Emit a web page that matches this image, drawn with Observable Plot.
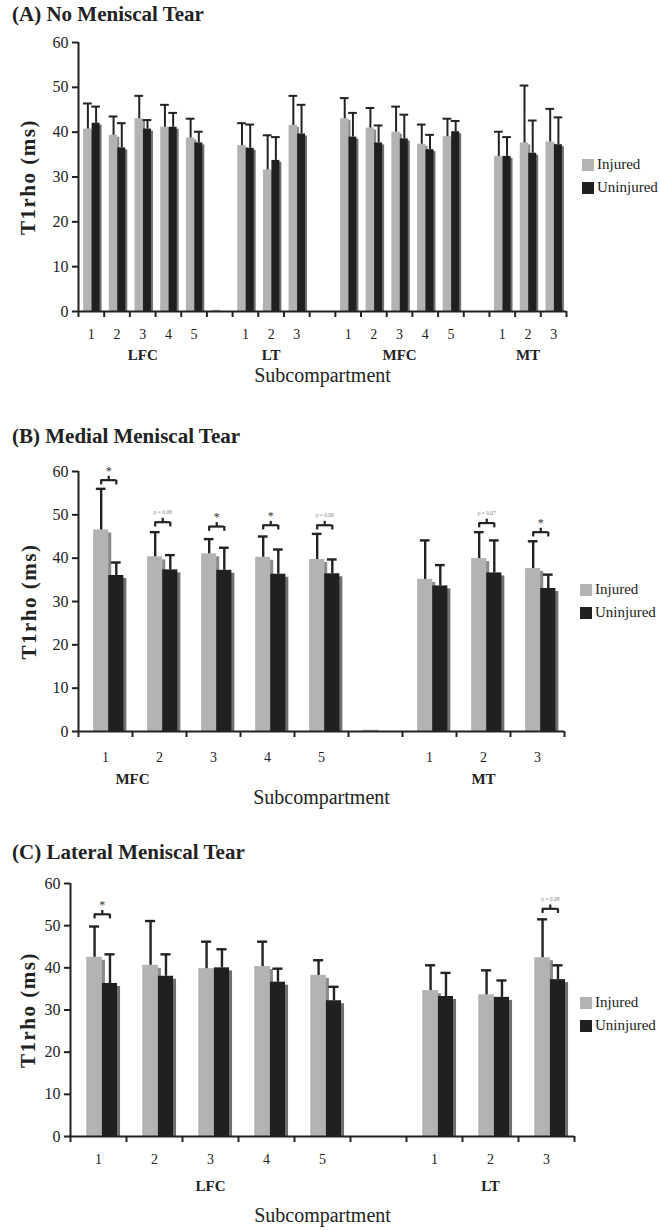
<!DOCTYPE html>
<html><head><meta charset="utf-8">
<script src="https://cdn.jsdelivr.net/npm/d3@7"></script>
<script src="https://cdn.jsdelivr.net/npm/@observablehq/plot@0.6"></script>
<style>
body{margin:0;background:#fff;}
#root{position:relative;width:660px;height:1231px;font-family:"Liberation Serif","Times New Roman",serif;color:#222;overflow:hidden;}
.title{position:absolute;left:12px;font-weight:bold;font-size:21px;white-space:nowrap;font-family:"Liberation Serif","Times New Roman",serif;}
.panel{position:absolute;left:0;}
.legend{position:absolute;font-size:15px;font-family:"Liberation Serif","Times New Roman",serif;}
.legend div{display:flex;align-items:center;height:23px;white-space:nowrap;}
.sw{width:12px;height:12px;margin-right:3px;}
</style></head><body><div id="root"></div>
<script>
// ---------- DATA ----------
const seriesNames = ["Injured", "Uninjured"];
const seriesColors = ["#b3b3b3", "#202020"];

// Panel A: No Meniscal Tear
const slotsA = ["1","2","3","4","5","","1","2","3","","1","2","3","4","5","","1","2","3"];
const groupsA = [["LFC",0,4],["LT",6,8],["MFC",10,14],["MT",16,18]];
const injuredA    = [40.7,39.3,43.0,41.1,38.7,0.3,37.0,31.6,41.5,null,43.0,40.9,40.0,37.3,39.0,null,34.6,37.6,37.8];
const injuredErrA = [46.4,43.5,48.1,46.1,43.0,null,42.0,39.3,48.1,null,47.6,45.4,45.7,41.7,43.0,null,40.1,50.4,45.2];
const uninjuredA    = [42.0,36.5,40.7,41.1,37.6,null,36.4,33.7,39.6,null,38.9,37.6,38.5,36.1,40.1,null,34.6,35.3,37.2];
const uninjuredErrA = [45.7,42.0,42.7,44.3,40.1,null,41.7,38.9,46.1,null,44.3,41.5,43.9,39.4,42.5,null,38.9,42.6,43.3];
const bracketsA = [];

// Panel B: Medial Meniscal Tear
const slotsB = ["1","2","3","4","5","","1","2","3"];
const groupsB = [["MFC",0,1],["MT",7,7]];
const injuredB    = [46.5,40.3,41.0,40.2,39.7,0.3,35.1,39.9,37.6];
const injuredErrB = [56.0,46.0,44.4,45.0,45.6,null,44.1,46.0,43.9];
const uninjuredB    = [36.0,37.3,37.2,36.3,36.4,null,33.6,36.6,33.0];
const uninjuredErrB = [39.0,40.7,42.4,42.0,39.7,null,38.4,44.1,36.2];
const bracketsB = [[0,58.0,"*"],[1,48.3,"p = 0.08"],[2,47.3,"*"],[3,47.6,"*"],[4,47.6,"p = 0.08"],[7,48.1,"p = 0.07"],[8,46.0,"*"]];

// Panel C: Lateral Meniscal Tear
const slotsC = ["1","2","3","4","5","","1","2","3"];
const groupsC = [["LFC",0,4],["LT",6,8]];
const injuredC    = [42.5,40.6,39.8,40.3,38.2,null,34.6,33.6,42.4];
const injuredErrC = [49.8,51.1,46.2,46.2,41.8,null,40.6,39.4,51.5];
const uninjuredC    = [36.3,38.0,40.0,36.6,32.2,null,33.2,33.0,37.2];
const uninjuredErrC = [43.2,43.2,44.4,39.8,35.5,null,38.8,37.0,40.6];
const bracketsC = [[0,52.7,"*"],[8,54.0,"p = 0.08"]];

const yTicks = [0,10,20,30,40,50,60];
const yLabel = "T1rho (ms)";
const xLabel = "Subcompartment";

// ---------- DRAW ----------
const root = document.getElementById("root");

function panel(cfg) {
  const N = cfg.slots.length;
  const [ga, gb] = cfg.grayPos, [ba, bb] = cfg.blackPos;
  const rows = [];
  cfg.slots.forEach((s, i) => {
    if (cfg.inj[i] != null) rows.push({i, s: 0, v: cfg.inj[i], e: cfg.injErr[i], a: ga, b: gb});
    if (cfg.un[i] != null) rows.push({i, s: 1, v: cfg.un[i], e: cfg.unErr[i], a: ba, b: bb});
  });
  const errRows = rows.filter(d => d.e != null);
  const cx = d => d.i + (d.a + d.b) / 2;
  const gc = (ga + gb) / 2, bc = (ba + bb) / 2;
  const br = cfg.brackets.map(([slot, y, label]) => ({slot, y, label}));
  const sh = cfg.shadow;
  const fill = d => seriesColors[d.s];
  const shadowFill = d => d.s === 0 ? "#8a8a8a" : "#707070";
  const plot = Plot.plot({
    width: 660, height: cfg.height,
    marginLeft: cfg.ml, marginRight: cfg.mr, marginTop: cfg.mt, marginBottom: cfg.mb,
    style: {fontFamily: '"Liberation Serif","Times New Roman",serif', fontSize: "16px", color: "#222", background: "white", overflow: "visible"},
    x: {domain: [0, N], axis: null},
    y: {domain: [0, 60], axis: null},
    marks: [
      // shadows
      Plot.rectY(rows, {x1: d => d.i + d.a, x2: d => d.i + d.b, y: "v", fill: shadowFill, dx: sh, dy: sh, insetBottom: sh}),
      // bars
      Plot.rectY(rows, {x1: d => d.i + d.a, x2: d => d.i + d.b, y: "v", fill}),
      // error bars
      Plot.ruleX(errRows, {x: cx, y1: "v", y2: "e", stroke: "#222", strokeWidth: cfg.ew}),
      Plot.ruleY(errRows, {x1: d => cx(d) - cfg.cap, x2: d => cx(d) + cfg.cap, y: "e", stroke: "#222", strokeWidth: cfg.ew}),
      // significance brackets
      Plot.ruleY(br, {x1: d => d.slot + gc, x2: d => d.slot + bc, y: "y", stroke: "#222", strokeWidth: 2.2}),
      Plot.ruleX(br, {x: d => d.slot + gc, y1: d => d.y - 1.1, y2: "y", stroke: "#222", strokeWidth: 2.2}),
      Plot.ruleX(br, {x: d => d.slot + bc, y1: d => d.y - 1.1, y2: "y", stroke: "#222", strokeWidth: 2.2}),
      Plot.ruleX(br, {x: d => d.slot + (gc + bc) / 2, y1: "y", y2: d => d.y + 0.9, stroke: "#222", strokeWidth: 2.2}),
      Plot.text(br.filter(d => d.label === "*"), {x: d => d.slot + (gc + bc) / 2, y: "y", text: "label", dy: -9, fontSize: 12, fill: "#333"}),
      Plot.text(br.filter(d => d.label !== "*"), {x: d => d.slot + (gc + bc) / 2, y: "y", text: "label", dy: -10, fontSize: 5.5, fill: "#888"}),
      // axes
      Plot.axisY({ticks: yTicks, tickSize: 6, tickPadding: 4, strokeWidth: 2, fontSize: 16, tickFormat: d => d}),
      Plot.axisX({ticks: d3.range(0, N + 1), tickSize: 6, strokeWidth: 2, tickFormat: () => ""}),
      Plot.ruleX([0], {stroke: "#222", strokeWidth: 2}),
      Plot.ruleY([0], {stroke: "#222", strokeWidth: 2}),
      // category labels
      Plot.text(cfg.slots.map((s, i) => ({s, i})), {x: d => d.i + 0.5, y: 0, text: "s", dy: cfg.numDy, fontSize: 14}),
      Plot.text(cfg.groups.map(([g, a, b]) => ({g, a, b})), {x: d => (d.a + d.b + 1) / 2, y: 0, text: "g", dy: cfg.grpDy, fontSize: 15, fontWeight: "bold"}),
      Plot.text([xLabel], {frameAnchor: "bottom", dy: cfg.subDy, fontSize: 20}),
      Plot.text([yLabel], {frameAnchor: "left", textAnchor: "middle", rotate: -90, dx: cfg.ylDx, fontSize: 21, fontWeight: "bold"})
    ]
  });
  plot.querySelectorAll("text").forEach(t => {
    if (t.textContent === yLabel) t.style.letterSpacing = "1.5px";
  });
  const div = document.createElement("div");
  div.className = "panel";
  div.style.top = cfg.top + "px";
  div.appendChild(plot);
  root.appendChild(div);

  const t = document.createElement("div");
  t.className = "title";
  t.style.top = cfg.titleTop + "px";
  t.textContent = cfg.title;
  root.appendChild(t);

  const lg = document.createElement("div");
  lg.className = "legend";
  lg.style.left = cfg.legLeft + "px";
  lg.style.top = cfg.legTop + "px";
  seriesNames.forEach((n, k) => {
    const row = document.createElement("div");
    const sw = document.createElement("span");
    sw.className = "sw";
    sw.style.background = seriesColors[k];
    row.appendChild(sw);
    row.appendChild(document.createTextNode(n));
    lg.appendChild(row);
  });
  root.appendChild(lg);
}

panel({title: "(A) No Meniscal Tear", titleTop: 2, top: 0, height: 390, mt: 42, mb: 79, ml: 78, mr: 94,
  slots: slotsA, groups: groupsA, inj: injuredA, injErr: injuredErrA, un: uninjuredA, unErr: uninjuredErrA, brackets: bracketsA,
  grayPos: [0.2, 0.53], blackPos: [0.53, 0.84], shadow: 2, ew: 2, cap: 0.17,
  numDy: 23, grpDy: 44, subDy: 70, ylDx: -50, legLeft: 582, legTop: 153});

panel({title: "(B) Medial Meniscal Tear", titleTop: 424, top: 390, height: 420, mt: 81, mb: 79, ml: 78, mr: 96,
  slots: slotsB, groups: groupsB, inj: injuredB, injErr: injuredErrB, un: uninjuredB, unErr: uninjuredErrB, brackets: bracketsB,
  grayPos: [0.28, 0.56], blackPos: [0.56, 0.84], shadow: 3, ew: 2.4, cap: 0.09,
  numDy: 26, grpDy: 48, subDy: 72, ylDx: -49, legLeft: 580, legTop: 578});

panel({title: "(C) Lateral Meniscal Tear", titleTop: 840, top: 810, height: 421, mt: 73, mb: 95, ml: 70, mr: 86,
  slots: slotsC, groups: groupsC, inj: injuredC, injErr: injuredErrC, un: uninjuredC, unErr: uninjuredErrC, brackets: bracketsC,
  grayPos: [0.29, 0.57], blackPos: [0.57, 0.84], shadow: 3, ew: 2.4, cap: 0.09,
  numDy: 23, grpDy: 50, subDy: 85, ylDx: -42, legLeft: 580, legTop: 991});
</script>
</body></html>
